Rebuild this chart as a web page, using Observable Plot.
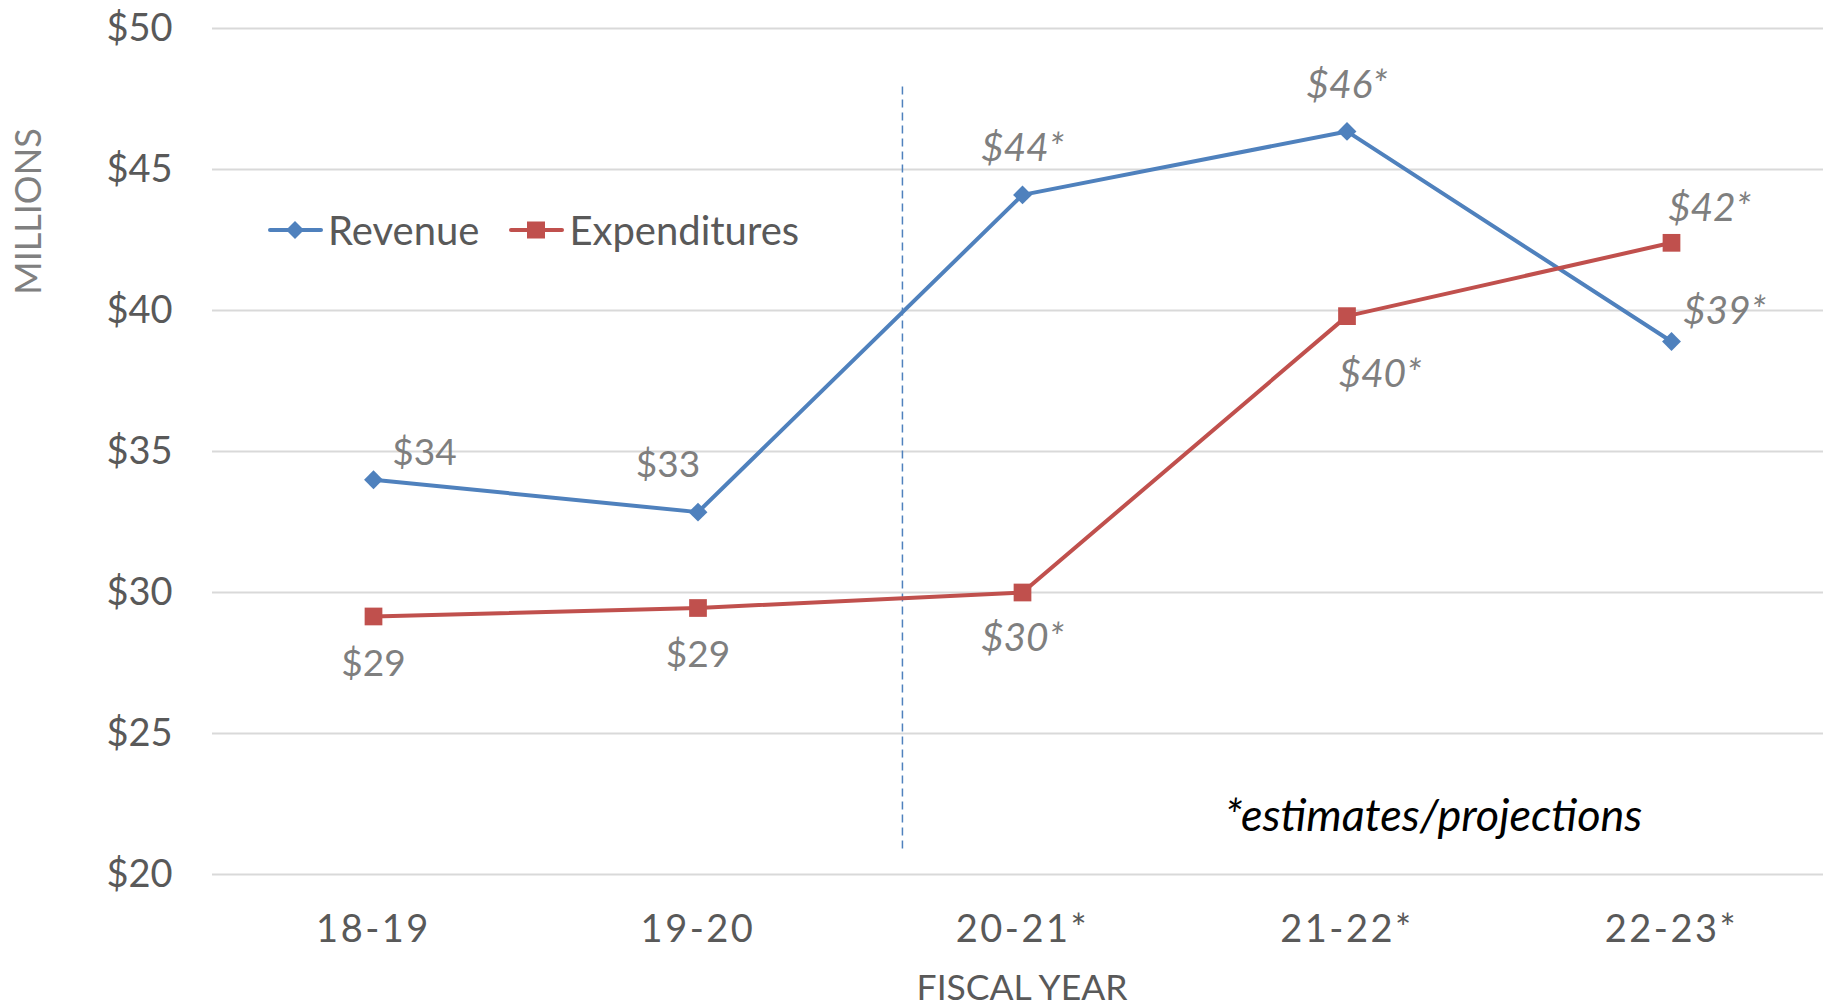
<!DOCTYPE html>
<html>
<head>
<meta charset="utf-8">
<script src="https://cdn.jsdelivr.net/npm/d3@7"></script>
<script src="https://cdn.jsdelivr.net/npm/@observablehq/plot@0.6"></script>
<style>
  body { margin: 0; background: #fff; }
  #wrap { position: relative; width: 1823px; height: 1008px; font-family: Lato, sans-serif; }
  #legend { position: absolute; left: 268px; top: 207px; display: flex; align-items: center; font-size: 40px; color: #595959; line-height: 46px; }
  #legend .item { display: flex; align-items: center; margin-right: 30px; }
  #legend svg { margin-right: 5px; }
  .xticks text { letter-spacing: 2.5px; }
</style>
</head>
<body>
<div id="wrap"></div>
<script>
// ---- data ----
const years = ["18-19", "19-20", "20-21*", "21-22*", "22-23*"];
const estimated = [false, false, true, true, true];
const revenue = [34.0, 32.85, 44.1, 46.35, 38.9];
const expenditures = [29.15, 29.45, 30.0, 39.8, 42.4];
const yTicks = [20, 25, 30, 35, 40, 45, 50];
const dividerX = 1.63;          // in category-index units, between 19-20 and 20-21*
const dividerRange = [20.9, 48];
const seriesNames = ["Revenue", "Expenditures"];
const seriesColors = ["#4F81BD", "#C0504D"];
const footnote = "*estimates/projections";

// ---- label placement (pixel offsets) ----
const revOffsets = [[51, -27], [-30, -47], [0, -46], [0, -46], [53, -30]];
const expOffsets = [[0, 48], [0, 47], [0, 46], [33, 58], [38, -34]];

const idx = years.map((_, i) => i);
const fmt = (v, i) => "$" + Math.round(v) + (estimated[i] ? "*" : "");

function labelMarks(values, offsets) {
  return idx.map(i => Plot.text([i], {
    x: d => d, y: d => values[d], text: d => fmt(values[d], d),
    dx: offsets[i][0], dy: offsets[i][1],
    fontSize: estimated[i] ? 39 : 37, fill: "#7f7f7f", fontStyle: estimated[i] ? "italic" : "normal",
    textAnchor: "middle", lineAnchor: "middle"
  }));
}

const chart = Plot.plot({
  width: 1823,
  height: 1008,
  marginLeft: 212,
  marginRight: 0,
  marginTop: 28,
  marginBottom: 134,
  style: { fontFamily: "Lato, sans-serif", background: "white", color: "#595959" },
  x: { type: "linear", domain: [0, years.length - 1], range: [373, 1671] },
  y: { domain: [20, 50] },
  marks: [
    Plot.ruleY(yTicks, { stroke: "#d9d9d9", strokeWidth: 2 }),
    Plot.axisY({ ticks: yTicks, tickSize: 0, tickPadding: 40, tickFormat: d => "$" + d, fontSize: 38, color: "#595959", label: null }),
    Plot.axisX({ ticks: idx, tickSize: 0, tickPadding: 41, tickFormat: i => years[i], fontSize: 38, color: "#595959", label: null, className: "xticks" }),
    Plot.text(["MILLIONS"], { frameAnchor: "top-left", dx: -183, dy: 183, rotate: -90, fontSize: 36, fill: "#808080", textAnchor: "middle", lineAnchor: "middle" }),
    Plot.text(["FISCAL YEAR"], { frameAnchor: "bottom", dx: 4, dy: 114, fontSize: 35.5, fill: "#595959", textAnchor: "middle", lineAnchor: "middle" }),
    Plot.ruleX([dividerX], { y1: dividerRange[0], y2: dividerRange[1], stroke: seriesColors[0], strokeWidth: 1.5, strokeDasharray: "8,5" }),
    Plot.line(idx, { x: d => d, y: d => revenue[d], stroke: seriesColors[0], strokeWidth: 4 }),
    Plot.line(idx, { x: d => d, y: d => expenditures[d], stroke: seriesColors[1], strokeWidth: 4 }),
    Plot.dot(idx, { x: d => d, y: d => revenue[d], symbol: "diamond2", r: 8.5, fill: seriesColors[0], stroke: "none" }),
    Plot.dot(idx, { x: d => d, y: d => expenditures[d], symbol: "square", r: 10, fill: seriesColors[1], stroke: "none" }),
    ...labelMarks(revenue, revOffsets),
    ...labelMarks(expenditures, expOffsets),
    Plot.text([footnote], { frameAnchor: "top-left", dx: 1221, dy: 788, fontSize: 45, fill: "#000", fontStyle: "italic", textAnchor: "middle", lineAnchor: "middle" })
  ]
});

const wrap = document.getElementById("wrap");
wrap.appendChild(chart);

// legend
const legend = document.createElement("div");
legend.id = "legend";
seriesNames.forEach((name, k) => {
  const item = document.createElement("div");
  item.className = "item";
  const sym = k === 0
    ? `<path d="M27,14 L36,23 L27,32 L18,23 Z" fill="${seriesColors[k]}"/>`
    : `<rect x="18" y="14.5" width="18" height="17" fill="${seriesColors[k]}"/>`;
  item.innerHTML = `<svg width="55" height="46"><line x1="2" x2="53" y1="23" y2="23" stroke="${seriesColors[k]}" stroke-width="4" stroke-linecap="round"/>${sym}</svg><span>${name}</span>`;
  legend.appendChild(item);
});
wrap.appendChild(legend);
</script>
</body>
</html>
